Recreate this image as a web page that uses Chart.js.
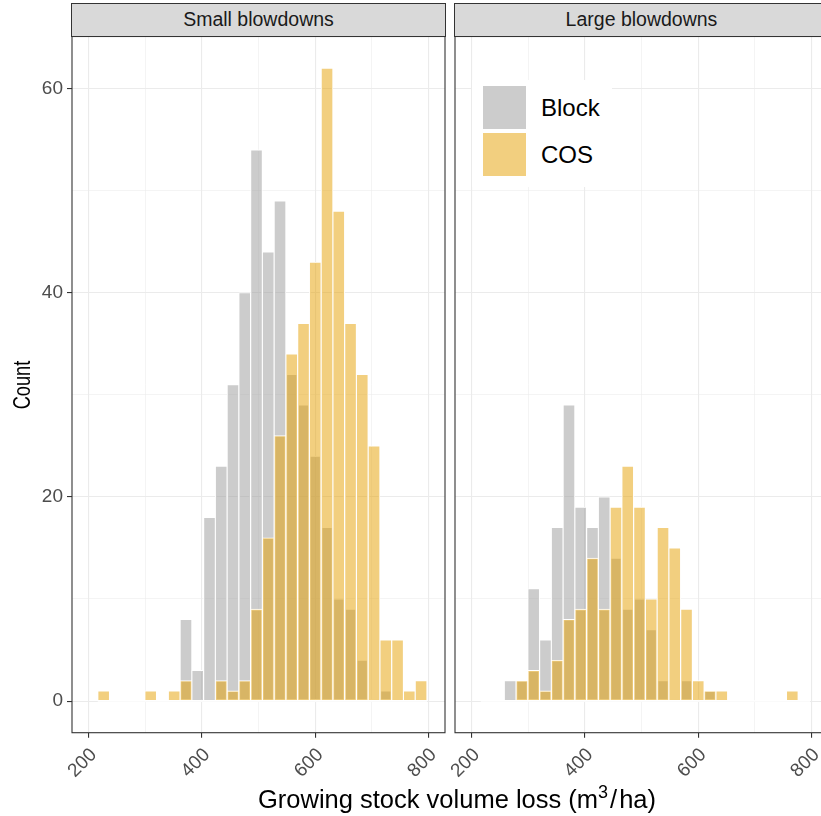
<!DOCTYPE html>
<html>
<head>
<meta charset="utf-8">
<script src="https://cdn.jsdelivr.net/npm/chart.js@4.4.1/dist/chart.umd.min.js"></script>
<style>
  body { margin: 0; width: 821px; height: 816px; overflow: hidden; background: #fff;
         font-family: "Liberation Sans", Arial, sans-serif; position: relative; }
  .wrap { position: absolute; top: 0; }
  .strip { position: absolute; top: 3px; height: 34px; background: #D9D9D9; border: 1px solid #333;
           box-sizing: border-box; text-align: center; line-height: 31px; font-size: 19.5px; color: #1A1A1A; }
  .key { position: absolute; left: 483px; width: 43px; height: 43px; }
  .ltxt { position: absolute; left: 541px; font-size: 24px; line-height: 24px; color: #000; }
  #ytitle { position: absolute; left: -28px; top: 370.6px; width: 100px; height: 28px; line-height: 28px;
            text-align: center; font-size: 24px; transform: rotate(-90deg) scaleX(0.76); }
  #xtitle { position: absolute; left: 72px; width: 770px; top: 785px; height: 28px; line-height: 28px;
            text-align: center; font-size: 25.5px; }
  #xtitle sup { font-size: 18px; vertical-align: 10px; line-height: 0; }
  #xtitle .sl { margin: 0 2px; }
</style>
</head>
<body>

<div class="wrap" style="left:0"><canvas id="small" width="450" height="816"></canvas></div>
<div class="wrap" style="left:450px"><canvas id="large" width="400" height="816"></canvas></div>

<div class="strip" style="left:71px; width:375px">Small blowdowns</div>
<div class="strip" style="left:454px; width:375px">Large blowdowns</div>

<div style="position:absolute; left:472px; top:80px; width:140px; height:107px; background:#fff"></div>
<div class="key" style="top:86px; background:rgba(153,153,153,0.5)"></div>
<div class="key" style="top:133px; background:rgba(230,159,0,0.5)"></div>
<div class="ltxt" style="top:96px">Block</div>
<div class="ltxt" style="top:143px">COS</div>

<div id="ytitle">Count</div>
<div id="xtitle">Growing stock volume loss (m<sup>3</sup><span class="sl">/</span>ha)</div>

<script>
// bin centres of the histogram (m3/ha)
var binCenters = [226.5, 247.3, 268.0, 288.8, 309.5, 330.3, 351.0, 371.8, 392.5, 413.3,
                  434.0, 454.8, 475.5, 496.3, 517.0, 537.8, 558.5, 579.3, 600.0, 620.8,
                  641.5, 662.3, 683.0, 703.8, 724.5, 745.3, 766.0, 786.8];
var binWidth = 20.75;

var smallBlock = [0, 0, 0, 0, 0, 0, 0, 8, 3, 18, 23, 31, 40, 54, 44, 49, 32, 29, 24, 17, 10, 9, 4, 0, 1, 0, 0, 0];
var smallCOS   = [1, 0, 0, 0, 1, 0, 1, 2, 0, 0, 2, 1, 2, 9, 16, 26, 34, 37, 43, 62, 48, 37, 32, 25, 6, 6, 1, 2];
var largeBlock = [0, 0, 2, 2, 11, 6, 17, 29, 19, 17, 20, 14, 9, 10, 7, 2, 0, 2, 0, 1, 0, 0, 0, 0, 0, 0, 0, 0];
var largeCOS   = [0, 0, 0, 2, 3, 1, 4, 8, 9, 14, 9, 19, 23, 19, 10, 17, 15, 9, 2, 1, 1, 0, 0, 0, 0, 0, 1, 0];

var xTicks = [200, 300, 400, 500, 600, 700, 800];
var yTicks = [0, 10, 20, 30, 40, 50, 60];
var xMin = 170.6, xMax = 829;
var yMin = -3.1, yMax = 65.1;

var blockFill = 'rgba(153,153,153,0.5)';
var cosFill = 'rgba(230,159,0,0.5)';

function pairs(vals) {
    return binCenters.map(function(c, i) { return {x: c, y: vals[i]}; });
}

var panelBorder = {
    id: 'panelBorder',
    afterDraw: function(chart) {
        var a = chart.chartArea, ctx = chart.ctx;
        ctx.save();
        ctx.strokeStyle = '#333333';
        ctx.lineWidth = 1.1;
        ctx.strokeRect(a.left, a.top, a.right - a.left, a.bottom - a.top);
        ctx.restore();
    }
};

function isMajorX(v) { return v % 200 === 0; }
function isMajorY(v) { return v % 20 === 0; }

function makePanel(id, block, cos, isLeft) {
    var zeroLine = [
        {x: binCenters[0] - binWidth / 2, y: 0},
        {x: binCenters[binCenters.length - 1] + binWidth / 2, y: 0}
    ];
    return new Chart(document.getElementById(id), {
        type: 'bar',
        data: {
            datasets: [
                {label: 'COS', data: pairs(cos), backgroundColor: cosFill, borderColor: '#fff', borderWidth: 0.9, order: 0},
                {label: 'Block', data: pairs(block), backgroundColor: blockFill, borderColor: '#fff', borderWidth: 0.9, order: 1},
                {type: 'line', data: zeroLine, borderColor: '#fff', borderWidth: 1.5, pointRadius: 0, order: 2}
            ]
        },
        options: {
            responsive: false,
            animation: false,
            events: [],
            layout: {padding: {top: 36.5, bottom: 0, left: isLeft ? 0 : 5, right: isLeft ? 5 : 22}},
            plugins: {legend: {display: false}, tooltip: {enabled: false}},
            datasets: {bar: {grouped: false, barPercentage: 1, categoryPercentage: 1, borderSkipped: false}},
            scales: {
                x: {
                    type: 'linear', min: xMin, max: xMax, offset: false,
                    border: {display: false},
                    grid: {
                        offset: false,
                        color: '#EBEBEB',
                        lineWidth: function(c) { return c.tick && isMajorX(c.tick.value) ? 1.1 : 0.55; },
                        tickColor: function(c) { return c.tick && isMajorX(c.tick.value) ? '#333333' : 'rgba(0,0,0,0)'; },
                        tickWidth: 1.1,
                        tickLength: 5
                    },
                    ticks: {
                        autoSkip: false, minRotation: 45, maxRotation: 45, padding: 6, labelOffset: 5,
                        color: '#4D4D4D', font: {family: '"Liberation Sans", Arial', size: 19},
                        callback: function(v) { return isMajorX(v) ? String(v) : ''; }
                    },
                    afterBuildTicks: function(s) { s.ticks = xTicks.map(function(v) { return {value: v}; }); },
                    afterFit: function(s) { s.height = 816 - 732.7; s.paddingLeft = 0; s.paddingRight = 0; }
                },
                y: {
                    type: 'linear', min: yMin, max: yMax,
                    border: {display: false},
                    grid: {
                        color: '#EBEBEB',
                        lineWidth: function(c) { return c.tick && isMajorY(c.tick.value) ? 1.1 : 0.55; },
                        tickColor: function(c) { return isLeft && c.tick && isMajorY(c.tick.value) ? '#333333' : 'rgba(0,0,0,0)'; },
                        tickWidth: 1.1,
                        tickLength: isLeft ? 5 : 0,
                        drawTicks: isLeft
                    },
                    ticks: {
                        display: isLeft, padding: 4,
                        color: '#4D4D4D', font: {family: '"Liberation Sans", Arial', size: 19},
                        callback: function(v) { return isMajorY(v) ? String(v) : ''; }
                    },
                    afterBuildTicks: function(s) { s.ticks = yTicks.map(function(v) { return {value: v}; }); },
                    afterFit: function(s) { s.width = isLeft ? 72 : 0; s.paddingTop = 0; s.paddingBottom = 0; }
                }
            }
        },
        plugins: [panelBorder]
    });
}

makePanel('small', smallBlock, smallCOS, true);
makePanel('large', largeBlock, largeCOS, false);
</script>
</body>
</html>
